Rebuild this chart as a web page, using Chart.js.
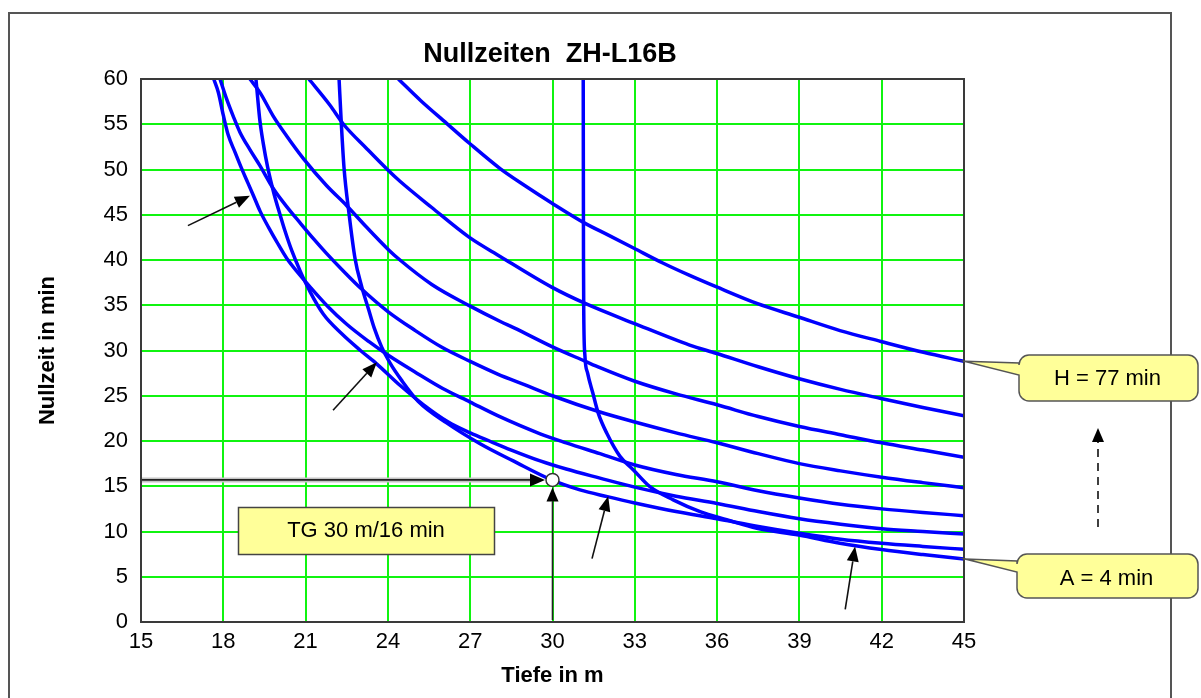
<!DOCTYPE html>
<html>
<head>
<meta charset="utf-8">
<title>Nullzeiten ZH-L16B</title>
<script src="https://cdn.jsdelivr.net/npm/chart.js@4.4.1/dist/chart.umd.min.js"></script>
<style>
  html, body { margin: 0; padding: 0; background: #fff; }
  #wrap { width: 1201px; height: 698px; }
</style>
</head>
<body>
<div id="wrap"><canvas id="nz" width="1201" height="698"></canvas></div>
<script>
// Nullzeit-Kurven je Kompartiment, [Tiefe m, Nullzeit min]
const compA = [[31.12,60],[31.125,50],[31.13,40],[31.14,34],[31.18,29.5],[31.28,27.5],[31.47,25.3],[31.67,23.05],[31.98,20.85],[32.46,18.3],[32.95,16.8],[33.55,14.95],[34.4,13.5],[35.38,12.2],[36.35,11.3],[37.45,10.35],[38.98,9.6],[40.48,8.7],[42.0,8.0],[43.5,7.45],[45.0,6.96]];
const compB = [[22.22,60],[22.3,55.2],[22.4,50.2],[22.58,45.2],[22.8,40.2],[23.05,37.0],[23.3,34.5],[23.5,32.5],[23.77,30.4],[24.08,28.6],[24.5,26.7],[25.1,24.4],[26.14,22.0],[27.36,19.7],[28.57,17.8],[29.97,15.7],[31.0,14.6],[32.0,13.85],[33.0,13.15],[34.5,12.2],[36.0,11.4],[37.5,10.55],[39.0,9.8],[40.5,9.15],[42.0,8.7],[43.5,8.35],[45.0,8.03]];
const compC = [[19.19,60],[19.25,58],[19.33,55.5],[19.45,53],[19.62,50.2],[19.85,47.3],[20.05,45.2],[20.25,43.2],[20.5,41.0],[20.8,38.8],[21.16,36.5],[21.65,34.0],[22.3,31.9],[23.0,30.0],[23.6,28.5],[24.46,26.1],[25.3,24.0],[26.2,22.1],[27.0,20.9],[27.7,20.0],[28.5,19.0],[29.55,17.8],[30.5,16.9],[31.73,15.9],[33.0,14.9],[34.5,13.9],[36.0,13.1],[37.5,12.2],[39.0,11.4],[40.5,10.8],[42.0,10.3],[43.5,10.0],[45.0,9.72]];
const compD = [[17.65,60],[17.82,58.5],[18.0,56.0],[18.18,53.8],[18.43,51.9],[18.67,50.1],[18.9,48.5],[19.1,47.1],[19.34,45.4],[19.65,43.6],[19.95,42.0],[20.31,40.2],[20.75,38.5],[21.2,36.9],[21.8,34.9],[22.5,32.9],[23.3,31.0],[24.0,29.5],[25.0,27.6],[26.0,25.8],[27.0,24.3],[28.0,22.8],[29.55,20.8],[30.5,19.8],[31.73,18.6],[33.0,17.35],[34.5,16.3],[36.0,15.5],[37.5,14.5],[39.0,13.7],[40.5,13.0],[42.0,12.5],[43.5,12.1],[45.0,11.75]];
const compE = [[17.88,60],[18.12,57.8],[18.36,55.9],[18.61,54.1],[18.97,52.2],[19.34,50.4],[19.82,47.9],[20.31,45.9],[20.8,44.1],[21.3,42.3],[21.77,40.7],[22.4,38.7],[23.0,36.9],[24.0,34.3],[25.0,32.2],[26.0,30.3],[27.0,28.8],[28.0,27.4],[29.0,26.2],[30.0,25.0],[31.73,23.2],[33.0,22.1],[34.5,20.9],[36.0,19.8],[37.5,18.6],[39.0,17.5],[40.5,16.7],[42.0,16.0],[43.5,15.4],[45.0,14.84]];
const compF = [[18.97,60],[19.34,58.5],[19.82,55.9],[20.31,53.7],[20.92,51.2],[21.77,48.2],[22.5,46.0],[23.2,43.7],[24.0,41.2],[24.44,40.0],[25.6,37.3],[27.0,34.9],[28.1,33.2],[28.6,32.5],[30.0,30.4],[31.2,28.8],[31.73,28.1],[33.0,26.6],[34.5,25.2],[36.0,24.0],[37.5,22.7],[39.0,21.6],[40.5,20.7],[42.0,19.8],[43.5,19.0],[45.0,18.2]];
const compG = [[21.12,60],[21.89,57.1],[22.38,55.0],[23.23,52.3],[23.98,50.0],[24.44,48.7],[25.6,45.8],[26.97,42.5],[28.09,40.4],[29.97,37.0],[31.19,35.2],[32.97,33.0],[35.0,30.6],[35.96,29.7],[37.5,28.2],[38.96,26.9],[40.5,25.7],[41.97,24.7],[43.5,23.7],[45.0,22.8]];
const compH = [[24.38,60],[25.2,57.6],[26.14,55.1],[26.97,52.9],[28.09,50.1],[29.0,48.2],[29.97,46.3],[31.19,44.05],[32.0,42.8],[32.97,41.3],[34.0,39.7],[35.0,38.3],[35.96,37.05],[37.45,35.2],[38.96,33.7],[40.48,32.2],[41.97,31.0],[43.52,29.8],[45.0,28.8]];

const compNames = ['A', 'B', 'C', 'D', 'E', 'F', 'G', 'H'];
const xTicks = [15, 18, 21, 24, 27, 30, 33, 36, 39, 42, 45];
const yTicks = [0, 5, 10, 15, 20, 25, 30, 35, 40, 45, 50, 55, 60];
const tgPoint = [30, 15.7]; // Tauchgang 30 m / 16 min

const FONT = "'Liberation Sans', Arial, sans-serif";

// Pfeile auf die fuehrenden Kompartimente: [von x,y] -> [nach x,y] in Achsenwerten
const pointerArrows = [
  [[16.71, 43.8], [18.97, 47.1]],
  [[22.0, 23.4], [23.6, 28.7]],
  [[31.44, 7.0], [32.03, 13.9]],
  [[40.67, 1.4], [41.03, 8.35]]
];

function arrow(ctx, x1, y1, x2, y2, len, wid, dash) {
  const a = Math.atan2(y2 - y1, x2 - x1);
  const bx = x2 - len * Math.cos(a), by = y2 - len * Math.sin(a);
  ctx.beginPath();
  ctx.setLineDash(dash || []);
  ctx.moveTo(x1, y1);
  ctx.lineTo(bx, by);
  ctx.stroke();
  ctx.setLineDash([]);
  ctx.beginPath();
  ctx.moveTo(x2, y2);
  ctx.lineTo(bx + wid / 2 * Math.sin(a), by - wid / 2 * Math.cos(a));
  ctx.lineTo(bx - wid / 2 * Math.sin(a), by + wid / 2 * Math.cos(a));
  ctx.closePath();
  ctx.fill();
}

function callout(ctx, bx, by, bw, bh, r, tipX, tipY, t1, t2, text, baseY) {
  ctx.beginPath();
  ctx.moveTo(tipX, tipY);
  ctx.lineTo(bx, by + t1);
  ctx.arcTo(bx, by, bx + r, by, r);
  ctx.lineTo(bx + bw - r, by);
  ctx.arcTo(bx + bw, by, bx + bw, by + r, r);
  ctx.lineTo(bx + bw, by + bh - r);
  ctx.arcTo(bx + bw, by + bh, bx + bw - r, by + bh, r);
  ctx.lineTo(bx + r, by + bh);
  ctx.arcTo(bx, by + bh, bx, by + bh - r, r);
  ctx.lineTo(bx, by + t2);
  ctx.closePath();
  ctx.fillStyle = '#ffff99';
  ctx.fill();
  ctx.strokeStyle = '#555';
  ctx.lineWidth = 1.5;
  ctx.stroke();
  ctx.fillStyle = '#000';
  ctx.font = '22px ' + FONT;
  ctx.textAlign = 'center';
  ctx.textBaseline = 'alphabetic';
  ctx.fillText(text, bx + bw / 2 - 1, baseY);
}

const background = {
  id: 'background',
  beforeDraw(chart) {
    const ctx = chart.ctx;
    ctx.save();
    ctx.fillStyle = '#fff';
    ctx.fillRect(0, 0, chart.width, chart.height);
    ctx.restore();
  }
};

const overlay = {
  id: 'overlay',
  afterDraw(chart) {
    const {ctx, chartArea: a, scales: {x, y}} = chart;
    ctx.save();

    // Diagrammrahmen aussen
    ctx.strokeStyle = '#555';
    ctx.lineWidth = 2;
    ctx.strokeRect(9, 13, 1162, 700);

    // Rahmen Zeichenflaeche
    ctx.strokeStyle = '#3a3a3a';
    ctx.lineWidth = 2;
    ctx.strokeRect(a.left, a.top, a.right - a.left, a.bottom - a.top);

    // Titel
    ctx.fillStyle = '#000';
    ctx.font = 'bold 27px ' + FONT;
    ctx.textAlign = 'center';
    ctx.textBaseline = 'alphabetic';
    ctx.fillText('Nullzeiten  ZH-L16B', 550, 62);

    // Pfeile auf Kurven
    ctx.strokeStyle = '#111';
    ctx.fillStyle = '#000';
    ctx.lineWidth = 1.6;
    pointerArrows.forEach(([p, q]) => {
      arrow(ctx, x.getPixelForValue(p[0]), y.getPixelForValue(p[1]),
        x.getPixelForValue(q[0]), y.getPixelForValue(q[1]), 15, 12);
    });

    // TG-Markierung
    const cx = x.getPixelForValue(tgPoint[0]);
    const cy = y.getPixelForValue(tgPoint[1]);
    const r = 6.5;
    ctx.strokeStyle = '#c4c4c4';
    ctx.lineWidth = 5;
    ctx.beginPath();
    ctx.moveTo(a.left + 1, cy);
    ctx.lineTo(cx - r - 14, cy);
    ctx.stroke();
    ctx.strokeStyle = '#222';
    ctx.lineWidth = 1.6;
    arrow(ctx, a.left + 1, cy, cx - r - 1, cy, 15, 13);
    arrow(ctx, cx, a.bottom - 2, cx, cy + r + 1, 14, 12);
    ctx.beginPath();
    ctx.arc(cx, cy, r, 0, Math.PI * 2);
    ctx.fillStyle = '#fff';
    ctx.fill();
    ctx.strokeStyle = '#333';
    ctx.lineWidth = 1.5;
    ctx.stroke();

    // Textfeld TG
    ctx.fillStyle = '#ffff99';
    ctx.fillRect(238.5, 507.5, 256, 47);
    ctx.strokeStyle = '#444';
    ctx.lineWidth = 1.5;
    ctx.strokeRect(238.5, 507.5, 256, 47);
    ctx.fillStyle = '#000';
    ctx.font = '22px ' + FONT;
    ctx.textAlign = 'center';
    ctx.fillText('TG 30 m/16 min', 366, 537);

    // Blasen fuer A und H
    const xEnd = x.getPixelForValue(45);
    callout(ctx, 1019, 355, 179, 46, 10, xEnd + 1, y.getPixelForValue(compH[compH.length - 1][1]),
      8, 20, 'H = 77 min', 385);
    callout(ctx, 1017, 554, 181, 44, 10, xEnd + 1, y.getPixelForValue(compA[compA.length - 1][1]),
      7, 18, 'A = 4 min', 585);

    // gestrichelter Pfeil A -> H
    ctx.strokeStyle = '#111';
    ctx.fillStyle = '#000';
    ctx.lineWidth = 1.6;
    arrow(ctx, 1098, 527, 1098, 428, 14, 12, [8, 6]);

    ctx.restore();
  }
};

const datasets = [compA, compB, compC, compD, compE, compF, compG, compH].map((pts, i) => ({
  label: compNames[i],
  data: pts.map(([d, t]) => ({x: d, y: t})),
  showLine: true,
  borderColor: '#0000ff',
  backgroundColor: '#0000ff',
  borderWidth: 3.5,
  pointRadius: 0,
  cubicInterpolationMode: 'monotone',
  fill: false
}));

new Chart(document.getElementById('nz'), {
  type: 'scatter',
  data: {datasets},
  options: {
    responsive: false,
    animation: false,
    devicePixelRatio: 1,
    layout: {padding: {top: 79, right: 237, left: 0, bottom: 0}},
    plugins: {
      legend: {display: false},
      tooltip: {enabled: false},
      title: {display: false}
    },
    scales: {
      x: {
        type: 'linear',
        min: 15,
        max: 45,
        afterBuildTicks: s => { s.ticks = xTicks.map(v => ({value: v})); },
        afterFit: s => { s.height = 76; },
        grid: {color: '#10f410', lineWidth: 2, drawTicks: false},
        border: {display: false},
        ticks: {color: '#000', font: {family: FONT, size: 22}, padding: 7, maxRotation: 0},
        title: {display: true, text: 'Tiefe in m', color: '#000',
          font: {family: FONT, size: 22, weight: 'bold'}, padding: {top: 0, bottom: 9}}
      },
      y: {
        type: 'linear',
        min: 0,
        max: 60,
        afterBuildTicks: s => { s.ticks = yTicks.map(v => ({value: v})); },
        afterFit: s => { s.width = 141; },
        grid: {color: '#10f410', lineWidth: 2, drawTicks: false},
        border: {display: false},
        ticks: {color: '#000', font: {family: FONT, size: 22}, padding: 13},
        title: {display: true, text: 'Nullzeit in min', color: '#000',
          font: {family: FONT, size: 22, weight: 'bold'}, padding: {top: 34.5, bottom: 0}}
      }
    }
  },
  plugins: [background, overlay]
});
</script>
</body>
</html>
